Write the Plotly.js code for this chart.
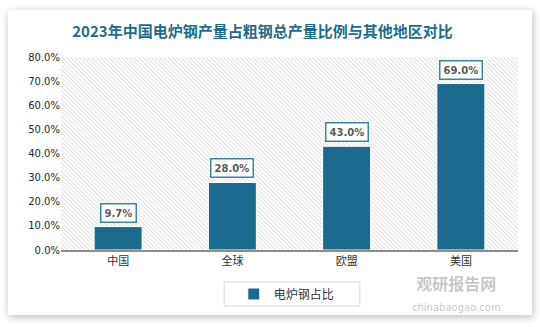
<!DOCTYPE html>
<html>
<head>
<meta charset="utf-8">
<script src="https://cdn.plot.ly/plotly-3.0.1.min.js"></script>
<style>
  html, body { margin:0; padding:0; background:#ffffff; }
  #wrap { position:relative; width:540px; height:327px; overflow:hidden; }
  #card { position:absolute; left:8px; top:10px; width:524px; height:305px; background:#ffffff;
          box-shadow: 1px 2px 8px rgba(0,0,0,0.28); }
  #chart { position:absolute; left:0; top:0; width:540px; height:327px; }
</style>
</head>
<body>
<div id="wrap">
  <div id="card"></div>
  <div id="chart"></div>
</div>
<script>
// ---- data ----
const categories = ["中国", "全球", "欧盟", "美国"];
const shareValues = [0.097, 0.28, 0.43, 0.69];
const seriesName = "电炉钢占比";
const titleText = "2023年中国电炉钢产量占粗钢总产量比例与其他地区对比";
const yTickValues = [0, 0.1, 0.2, 0.3, 0.4, 0.5, 0.6, 0.7, 0.8];

// ---- style ----
const barColor = "#1c6a8e";
const labelBorder = "#3f84a3";

const hatchSvg = '<svg xmlns="http://www.w3.org/2000/svg" width="457" height="193">' +
  '<defs><pattern id="h" width="3" height="3" patternUnits="userSpaceOnUse" patternTransform="rotate(-45)">' +
  '<rect width="3" height="3" fill="#ffffff"/><line x1="0.5" y1="0" x2="0.5" y2="3" stroke="#e0e0e0" stroke-width="1"/></pattern></defs>' +
  '<rect width="457" height="193" fill="url(#h)"/></svg>';
const hatchUri = "data:image/svg+xml;base64," + btoa(hatchSvg);

const trace = {
  type: "bar",
  x: categories,
  y: shareValues,
  name: seriesName,
  marker: { color: barColor, line: { color: "#ffffff", width: 1 } },
  hoverinfo: "skip",
  showlegend: true
};

const valueAnnotations = categories.map((c, i) => ({
  x: c, y: shareValues[i], xref: "x", yref: "y",
  text: (shareValues[i] * 100).toFixed(1) + "%",
  showarrow: false, yanchor: "bottom", yshift: 4,
  font: { family: "DejaVu Sans", size: 10, color: "#5a5a5a", weight: "bold" },
  bgcolor: "#ffffff", bordercolor: labelBorder, borderwidth: 1.5, borderpad: 3
}));

const layout = {
  width: 540, height: 327,
  margin: { l: 61, r: 22, t: 57, b: 77 },
  paper_bgcolor: "rgba(0,0,0,0)",
  plot_bgcolor: "rgba(0,0,0,0)",
  title: {
    text: "<b>" + titleText + "</b>",
    x: 0.486, xanchor: "center", y: 1 - 32/327, yanchor: "middle",
    font: { family: "Noto Sans CJK SC", size: 15, color: "#1f6b8c" }
  },
  bargap: 0.58,
  xaxis: {
    type: "category",
    tickfont: { family: "Noto Sans CJK SC", size: 11, color: "#333333" },
    showline: true, linecolor: "#8c8c8c", linewidth: 1.5,
    ticks: "", showgrid: false, fixedrange: true
  },
  yaxis: {
    range: [0, 0.8], tickvals: yTickValues, tickformat: ".1%",
    tickfont: { family: "DejaVu Sans", size: 10, color: "#262626" },
    showgrid: false, zeroline: false, showline: false, ticks: "", fixedrange: true
  },
  images: [{
    source: hatchUri, xref: "paper", yref: "paper", x: 0, y: 1, sizex: 1, sizey: 1,
    xanchor: "left", yanchor: "top", sizing: "stretch", layer: "below"
  }],
  showlegend: true,
  legend: {
    orientation: "h", x: 0.494, xanchor: "center", y: -0.228, yanchor: "middle",
    itemwidth: 30,
    font: { family: "Noto Sans CJK SC", size: 12, color: "#333333" },
    bgcolor: "rgba(0,0,0,0)", borderwidth: 0
  },
  shapes: [{
    type: "rect", xref: "paper", yref: "paper",
    x0: 0.357, x1: 0.654, y0: -0.290, y1: -0.166,
    line: { color: "#d9d9d9", width: 1 }, fillcolor: "rgba(0,0,0,0)", layer: "below"
  }],
  annotations: valueAnnotations.concat([
    { text: "<b>观研报告网</b><br><span style='font-size:10px;font-family:DejaVu Sans'>chinabaogao.com</span>",
      xref: "paper", yref: "paper", x: 0.865, y: -0.1, yanchor: "top", xanchor: "center", align: "center",
      showarrow: false, font: { family: "Noto Sans CJK SC", size: 16, color: "rgba(150,150,150,0.55)" } }
  ]),
  font: { family: "Noto Sans CJK SC" }
};

Plotly.newPlot("chart", [trace], layout, { displayModeBar: false, staticPlot: true });
</script>
</body>
</html>
